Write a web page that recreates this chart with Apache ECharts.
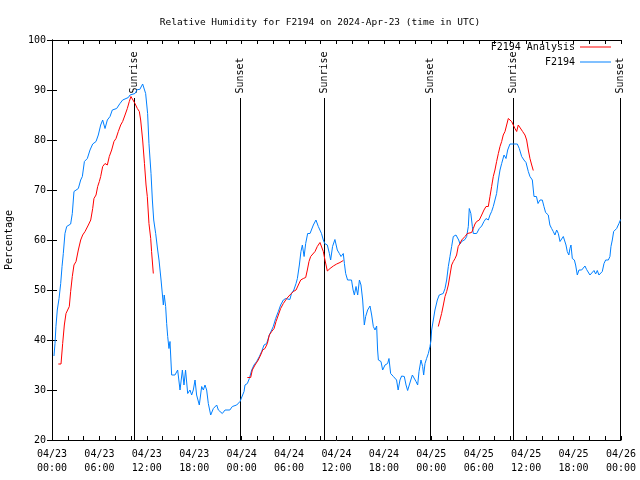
<!DOCTYPE html>
<html>
<head>
<meta charset="utf-8">
<script src="https://cdn.jsdelivr.net/npm/echarts@6/dist/echarts.min.js"></script>
<style>html,body{margin:0;padding:0;background:#fff}#c{width:640px;height:480px}</style>
</head>
<body>
<div id="c"></div>
<script>
// Hours since 2024-04-23 00:00 UTC
var xTickLabels = ['04/23\n00:00','04/23\n06:00','04/23\n12:00','04/23\n18:00','04/24\n00:00','04/24\n06:00','04/24\n12:00','04/24\n18:00','04/25\n00:00','04/25\n06:00','04/25\n12:00','04/25\n18:00','04/26\n00:00'];
var yTicks = [20,30,40,50,60,70,80,90,100];

var obsHours = [0.25,0.38,0.5,0.67,0.89,1.1,1.27,1.43,1.64,1.86,2.36,2.57,2.78,3.33,3.63,3.84,4.1,4.47,4.81,5.15,5.57,5.86,6.16,6.41,6.71,7.0,7.34,7.63,8.18,8.6,8.94,9.66,9.87,10.5,10.8,11.1,11.47,11.7,11.85,12.1,12.27,12.53,12.7,12.87,13.12,13.37,13.54,13.8,14.09,14.2,14.38,14.51,14.64,14.8,14.93,15.14,15.56,15.9,16.2,16.5,16.7,16.9,17.17,17.46,17.67,17.88,18.1,18.3,18.64,18.94,19.15,19.36,19.57,19.78,20.08,20.42,20.63,20.84,21.05,21.26,21.55,21.9,22.5,22.82,23.07,23.37,23.79,24.0,24.3,24.42,24.72,24.97,25.27,25.56,25.9,26.24,26.53,26.83,27.16,27.5,27.8,28.0,28.3,28.64,28.93,29.27,29.57,29.78,30.1,30.3,30.6,30.88,31.05,31.3,31.5,31.68,31.9,32.1,32.35,32.65,32.86,33.07,33.4,33.7,33.9,34.1,34.33,34.5,34.84,35.1,35.26,35.5,35.8,36.1,36.36,36.57,36.86,37.0,37.16,37.4,37.9,38.1,38.26,38.47,38.68,38.9,39.1,39.31,39.52,39.69,39.94,40.24,40.45,40.66,40.87,41.08,41.2,41.3,41.63,41.84,42.14,42.47,42.64,42.85,43.2,43.4,43.6,43.8,44.03,44.24,44.58,44.8,45.0,45.2,45.4,45.6,45.85,46.06,46.27,46.44,46.69,46.9,47.03,47.2,47.4,47.62,47.83,47.96,48.04,48.25,48.46,48.76,49.0,49.5,49.73,49.94,50.15,50.36,50.57,50.78,51.12,51.3,51.46,51.63,51.84,52.05,52.26,52.47,52.68,52.8,53.0,53.19,53.31,53.73,54.07,54.37,54.66,54.92,55.21,55.42,55.63,55.84,56.05,56.26,56.48,56.69,56.9,57.2,57.45,57.66,57.95,58.37,58.88,59.13,59.43,59.72,59.98,60.27,60.48,60.78,60.99,61.1,61.3,61.5,61.75,62.04,62.25,62.46,62.8,63.0,63.22,63.43,63.64,63.86,64.07,64.28,64.49,64.7,64.91,65.04,65.2,65.4,65.54,65.67,65.84,66.1,66.26,66.47,66.68,67.02,67.23,67.44,67.65,67.86,68.07,68.28,68.58,68.79,69.0,69.21,69.42,69.63,69.85,70.06,70.4,70.6,70.73,70.9,71.07,71.24,71.45,71.74,71.95];
var obsValues = [36.8,39.3,42.7,46,48.3,51.3,54.7,57.3,61.3,62.7,63.2,65.3,69.7,70.3,72,72.7,75.7,76.3,78,79.2,79.7,81,83,84,82.3,84,84.7,86,86.3,87.3,88,88.5,89,89.3,90.1,90.1,91.2,91,89.3,85.3,79.3,73.3,68,64,61.3,58,56,52,47,49,46.7,43.3,40.7,38.3,39.7,33,33,34,30,34,31,34,29.3,30,29,30,32,29,27,30.7,30,31,30,27.3,25,26.3,26,27,26,25.7,25.3,26,26,26.7,26.3,27,27.7,28,29.7,31,31.3,32.3,34,35,35.7,36.7,37.7,39,39.3,41,42,42.7,44.3,45.7,47,48,48.3,48.7,48.1,49.3,50,51.3,52.3,55,57.7,59,56.7,59.3,61.3,61.3,61.7,63,64,62.7,62,61.3,60,59.3,59,57.3,56,58.7,60.1,58,57.3,56.7,57.3,55.3,53.3,52,52,50,49,50.7,49,52,51,48,43,44.7,46,46.8,45,42.7,42,42.8,38,36,35.7,34,35,35.3,36.3,33.3,32.7,33,32,30,32,32.8,32.7,31,29.9,30,32,33,32.8,31.7,31,33.7,36,34.7,33,35.3,36.3,37.3,38.7,40,42,44,46,48,49,49.3,50.3,52,54.7,56.7,58.7,60.7,61,61.2,60,59.2,59.7,60,60.1,60.7,62.7,66.3,65.3,62.7,61.3,61.3,62.3,62.8,63.7,64.3,64,65,65.7,66.7,68,69.3,72,74,75.3,77,76.3,78,79.2,79.2,79.2,78.3,76.7,76,75.5,73.7,72.7,72,68.7,69,68.7,67.3,68,68,66.7,65.5,65,63,62.3,61.7,61,62,61.3,59.7,59.3,60.7,61,59,57.7,57,58.3,59,56.3,56,55,53,54,54,54.1,54.8,54.1,53.7,53,53,53.9,53.2,53.9,53,53.3,53.7,55.3,56,56,56.7,58.7,60,61.7,62,62.3,63.3,64.1];

// Analysis: three runs, null marks a gap
var anaHours = [0.8,1.14,1.35,1.56,1.77,1.98,2.19,2.36,2.57,2.78,3.04,3.33,3.63,3.88,4.18,4.6,4.9,5.15,5.31,5.57,5.78,5.99,6.16,6.41,6.71,7.0,7.25,7.55,7.84,8.1,8.39,8.69,8.94,9.24,9.53,9.78,9.99,10.2,10.5,10.8,11.05,11.22,11.47,11.7,11.9,12.06,12.27,12.49,12.6,12.82,
 18,
 24.72,25.14,25.35,25.69,26.1,26.4,26.66,26.95,27.25,27.5,27.8,28.1,28.35,28.64,28.93,29.27,29.7,30.1,30.54,30.88,31.17,31.47,31.8,32.1,32.31,32.52,32.73,32.98,33.28,33.57,33.91,34.12,34.33,34.54,34.84,35.18,35.6,36.02,36.44,36.86,
 42,
 48.88,49.1,49.3,49.52,49.73,49.94,50.15,50.36,50.57,50.78,51.0,51.2,51.4,51.63,51.84,52.05,52.26,52.55,53.1,53.31,53.52,53.73,54.07,54.37,54.66,54.92,55.21,55.42,55.63,55.84,56.05,56.26,56.48,56.69,56.9,57.1,57.32,57.53,57.74,57.95,58.16,58.37,58.58,58.8,59.0,59.2,59.55,59.85,60.06,60.27,60.48,60.7,60.9];
var anaValues = [35.2,35.2,39.3,43,45.3,46,46.7,49.7,52.7,55,55.7,58,60,61,61.7,63,64,66.3,68.3,69,70.7,71.7,72.7,74.7,75.3,75,76.7,78,79.7,80.3,81.7,83,83.7,85,86.3,87.7,88.7,88.3,87.3,86.3,85.7,84,80,75.3,71,68.7,63.3,60.3,57.7,53.3,
 null,
 32.5,32.5,34,35,36,37,38,38.3,39.3,41,41.7,42.3,43.7,45,46.3,47.3,48.3,49,49.7,50,51,52,52.3,52.5,54,55.7,56.7,56.8,57.7,58.7,59.5,59.3,57.7,56,53.8,54.3,54.8,55.2,55.5,55.9,
 null,
 42.7,43,45.3,47,48.7,49.7,51,53,55,55.7,56.3,57,58.7,59.3,60,60.3,60.7,61.3,61.5,62.3,63.2,63.7,64,65,66,66.7,66.7,68.7,70.7,72.7,74,75.7,77.3,78.7,79.7,81,81.7,83,84.3,84.3,83.7,83,82.3,81.7,83,82.7,81.7,81,80,78,76.3,75,73.9];

var sunHours = [10.4, 23.8, 34.4, 47.85, 58.35, 71.9];
var sunNames = ['Sunrise','Sunset','Sunrise','Sunset','Sunrise','Sunset'];
var sunLineTop = 88.4;
var sunLabelBase = 89.3;

var FONT = 'DejaVu Sans Mono';
function zip(a, b) { return a.map(function (v, i) { return [v, b[i]]; }); }

var chart = echarts.init(document.getElementById('c'), null, {renderer: 'canvas'});
var axisCommon = {
  type: 'value', min: 0, max: 72, interval: 2,
  axisLine: {show: true, lineStyle: {color: '#000', width: 1}},
  axisTick: {show: true, inside: true, length: 4, lineStyle: {color: '#000'}},
  splitLine: {show: false}
};
var legendCommon = {
  right: 29, orient: 'vertical', align: 'right', icon: 'rect',
  itemWidth: 31, itemHeight: 1, padding: 0,
  textStyle: {fontFamily: FONT, fontSize: 10, color: '#000'}
};
var option = {
  animation: false,
  backgroundColor: '#fff',
  title: {
    text: 'Relative Humidity for F2194 on 2024-Apr-23 (time in UTC)',
    left: 'center', top: 13,
    textStyle: {fontFamily: FONT, fontSize: 9.5, fontWeight: 'normal', color: '#000'}
  },
  legend: [
    Object.assign({data: ['F2194 Analysis'], top: 42}, legendCommon),
    Object.assign({data: ['F2194'], top: 57}, legendCommon)
  ],
  grid: {left: 52, right: 19, top: 40, bottom: 40, containLabel: false, outerBoundsMode: 'none'},
  xAxis: [
    Object.assign({}, axisCommon, {
      position: 'bottom',
      axisLabel: {
        color: '#000', fontFamily: FONT, fontSize: 10, margin: 7, lineHeight: 14,
        formatter: function (v) { return (v % 6 === 0) ? xTickLabels[v / 6] : ''; }
      }
    }),
    Object.assign({}, axisCommon, {position: 'top', axisLabel: {show: false}})
  ],
  yAxis: [
    {type: 'value', min: yTicks[0], max: yTicks[yTicks.length - 1], interval: 10,
     name: 'Percentage', nameLocation: 'middle', nameGap: 38,
     nameTextStyle: {fontFamily: FONT, fontSize: 10, color: '#000'},
     axisLine: {show: true, lineStyle: {color: '#000'}},
     axisTick: {show: true, inside: true, length: 5, lineStyle: {color: '#000'}},
     axisLabel: {color: '#000', fontFamily: FONT, fontSize: 10, margin: 6},
     splitLine: {show: false}},
    {type: 'value', min: yTicks[0], max: yTicks[yTicks.length - 1], interval: 10, position: 'right',
     axisLine: {show: true, lineStyle: {color: '#000'}},
     axisTick: {show: true, inside: true, length: 5, lineStyle: {color: '#000'}},
     axisLabel: {show: false}, splitLine: {show: false}}
  ],
  series: [
    {
      type: 'custom', name: 'sun', silent: true, clip: false, z: 1,
      data: sunHours.map(function (h, i) { return [h, i]; }),
      renderItem: function (params, api) {
        var h = api.value(0);
        var i = api.value(1);
        var p0 = api.coord([h, yTicks[0]]);
        var p1 = api.coord([h, sunLineTop]);
        var pl = api.coord([h, sunLabelBase]);
        return {
          type: 'group',
          children: [
            {type: 'line', shape: {x1: Math.round(p0[0]) + 0.5, y1: p0[1], x2: Math.round(p1[0]) + 0.5, y2: p1[1]},
             style: {stroke: '#000', lineWidth: 1}},
            {type: 'text', x: Math.round(pl[0]) + 0.5, y: pl[1], rotation: Math.PI / 2,
             style: {text: sunNames[i], x: 0, y: 0, align: 'left', verticalAlign: 'middle',
                     font: '10px ' + FONT, fill: '#000'}}
          ]
        };
      }
    },
    {
      type: 'line', name: 'F2194 Analysis', data: zip(anaHours, anaValues),
      symbol: 'none', showSymbol: false, connectNulls: false, z: 3,
      lineStyle: {color: '#ff0000', width: 1}, itemStyle: {color: '#ff0000'}
    },
    {
      type: 'line', name: 'F2194', data: zip(obsHours, obsValues),
      symbol: 'none', showSymbol: false, z: 2,
      lineStyle: {color: '#0080ff', width: 1}, itemStyle: {color: '#0080ff'}
    }
  ]
};
chart.setOption(option);
</script>
</body>
</html>
